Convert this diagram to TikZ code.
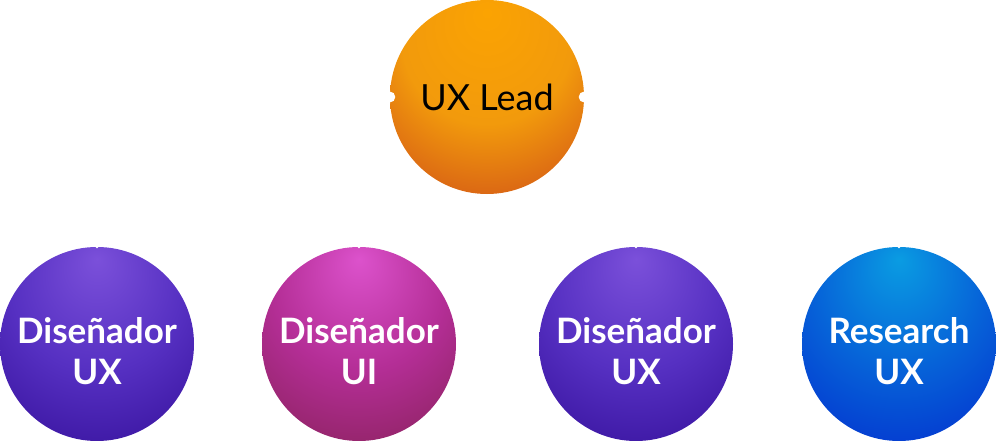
\documentclass[tikz,border=0pt]{standalone}
\usepackage{fontspec}
\setmainfont{Lato}
\usepackage{xcolor}
\usepackage{tikz}
\usetikzlibrary{positioning}

\definecolor{leadtop}{HTML}{FBA302}
\definecolor{leadmid}{HTML}{F29A0C}
\definecolor{leadbot}{HTML}{CF4E18}
\definecolor{uxtop}{HTML}{7B50DA}
\definecolor{uxmid}{HTML}{5630C2}
\definecolor{uxbot}{HTML}{35109A}
\definecolor{uitop}{HTML}{DC52CC}
\definecolor{uimid}{HTML}{B42E96}
\definecolor{uibot}{HTML}{88215A}
\definecolor{restop}{HTML}{0A9CE2}
\definecolor{resmid}{HTML}{0662D8}
\definecolor{resbot}{HTML}{042ECE}

\pgfdeclareradialshading{leadshade}{\pgfpoint{0bp}{22bp}}{color(0bp)=(leadtop); color(22bp)=(leadmid); color(43bp)=(leadbot); color(70bp)=(leadbot)}
\pgfdeclareradialshading{uxshade}{\pgfpoint{0bp}{22bp}}{color(0bp)=(uxtop); color(22bp)=(uxmid); color(43bp)=(uxbot); color(70bp)=(uxbot)}
\pgfdeclareradialshading{uishade}{\pgfpoint{0bp}{22bp}}{color(0bp)=(uitop); color(22bp)=(uimid); color(43bp)=(uibot); color(70bp)=(uibot)}
\pgfdeclareradialshading{resshade}{\pgfpoint{0bp}{22bp}}{color(0bp)=(restop); color(22bp)=(resmid); color(43bp)=(resbot); color(70bp)=(resbot)}

\begin{document}
\begin{tikzpicture}[
  x=1pt, y=-1pt,
  role/.style={circle, minimum size=194pt, inner sep=0pt},
  roletext/.style={yshift=-7pt, inner sep=0pt, align=center, text=white,
    font=\bfseries\fontsize{35}{41}\selectfont},
  lead/.style={circle, minimum size=194pt, inner sep=0pt, align=center, text=black,
    font=\fontsize{36}{41}\selectfont, shading=leadshade},
  port/.style={circle, fill=white, inner sep=0pt, minimum size=11pt},
  pin/.style={circle, fill=white, inner sep=0pt, minimum size=3pt}
]
\useasboundingbox (0,0) rectangle (996,441);

\node[lead] (uxlead) at (487,97) {UX Lead};
\node[role, shading=uxshade, label={[roletext]center:Diseñador\\UX}] (dux1) at (97,344) {};
\node[role, shading=uishade, label={[roletext]center:Diseñador\\UI}] (dui) at (359,344) {};
\node[role, shading=uxshade, label={[roletext]center:Diseñador\\UX}] (dux2) at (636,344) {};
\node[role, shading=resshade, label={[roletext]center:Research\\UX}] (rux) at (899,344) {};

% connection points
\node[port] (lead-w) at (uxlead.west) {};
\node[port] (lead-e) at (uxlead.east) {};
\node[pin] (dux1-n) at (dux1.north) {};
\node[pin] (dui-n) at (dui.north) {};
\node[pin] (dux2-n) at (dux2.north) {};
\node[pin] (rux-n) at (rux.north) {};
\end{tikzpicture}
\end{document}
